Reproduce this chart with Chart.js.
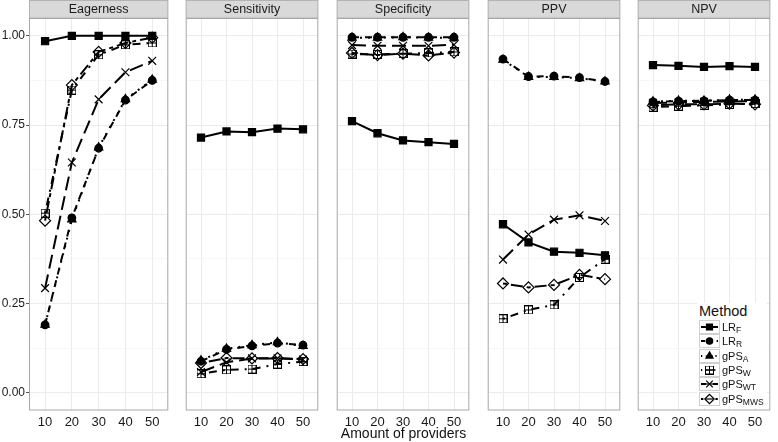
<!DOCTYPE html>
<html>
<head>
<meta charset="utf-8">
<script src="https://cdn.jsdelivr.net/npm/chart.js@4.4.1/dist/chart.umd.min.js"></script>
<style>
  body { margin: 0; background: #fff; }
  #wrap { position: relative; width: 778px; height: 442px; overflow: hidden;
          font-family: "Liberation Sans", Arial, sans-serif; color: #111; }
  #wrap > canvas { position: absolute; top: 0; }
  #xtitle { position: absolute; left: 29px; width: 749px; top: 425px; text-align: center; font-size: 14px; }
  #legend { position: absolute; left: 697px; top: 303px; background: #fff; padding: 0 3px 2px 2px; }
  #legend .ttl { font-size: 14.5px; line-height: 16px; margin-bottom: 1px; }
  #legend .row { height: 14.3px; display: flex; align-items: center; font-size: 11px; }
  #legend .row canvas { display: block; margin-right: 2px; }
  #legend sub { font-size: 8.5px; vertical-align: -2px; line-height: 0; }
</style>
</head>
<body>
<div id="wrap">
  <div id="xtitle">Amount of providers</div>
</div>
<script>
// x categories and facets
const providers = [10, 20, 30, 40, 50];
const panels = ["Eagerness", "Sensitivity", "Specificity", "PPV", "NPV"];
const yTicks = [0, 0.125, 0.25, 0.375, 0.5, 0.625, 0.75, 0.875, 1];

// one row per panel: Eagerness, Sensitivity, Specificity, PPV, NPV
const lrF = [
  [0.985, 1.0, 1.0, 1.0, 1.0],
  [0.715, 0.732, 0.730, 0.740, 0.738],
  [0.761, 0.727, 0.707, 0.702, 0.697],
  [0.472, 0.421, 0.395, 0.392, 0.385],
  [0.918, 0.916, 0.913, 0.915, 0.913]
];
const lrR = [
  [0.19, 0.49, 0.685, 0.82, 0.875],
  [0.088, 0.121, 0.131, 0.139, 0.133],
  [0.996, 0.996, 0.996, 0.996, 0.996],
  [0.935, 0.886, 0.887, 0.883, 0.872],
  [0.815, 0.817, 0.818, 0.820, 0.820]
];
const gpsA = [
  [0.19, 0.485, 0.687, 0.822, 0.877],
  [0.090, 0.123, 0.133, 0.141, 0.131],
  [0.995, 0.995, 0.996, 0.995, 0.995],
  [0.933, 0.885, 0.885, 0.881, 0.872],
  [0.816, 0.818, 0.818, 0.821, 0.821]
];
const gpsW = [
  [0.503, 0.848, 0.947, 0.975, 0.98],
  [0.053, 0.064, 0.066, 0.080, 0.087],
  [0.949, 0.948, 0.950, 0.952, 0.955],
  [0.207, 0.232, 0.246, 0.323, 0.374],
  [0.800, 0.803, 0.805, 0.808, 0.810]
];
const gpsWT = [
  [0.293, 0.645, 0.822, 0.898, 0.93],
  [0.058, 0.085, 0.096, 0.096, 0.093],
  [0.974, 0.972, 0.972, 0.972, 0.975],
  [0.373, 0.443, 0.485, 0.497, 0.481],
  [0.812, 0.813, 0.815, 0.816, 0.817]
];
const gpsMWS = [
  [0.482, 0.862, 0.955, 0.98, 0.995],
  [0.083, 0.097, 0.096, 0.097, 0.094],
  [0.952, 0.946, 0.950, 0.945, 0.953],
  [0.306, 0.295, 0.302, 0.330, 0.318],
  [0.805, 0.808, 0.808, 0.810, 0.808]
];

// open square with a plus (ggplot shape 12)
function squarePlus() {
  const c = document.createElement('canvas');
  c.width = 9; c.height = 9;
  const g = c.getContext('2d');
  g.strokeStyle = '#000'; g.lineWidth = 1;
  g.strokeRect(0.5, 0.5, 8, 8);
  g.beginPath(); g.moveTo(4.5, 0); g.lineTo(4.5, 9); g.moveTo(0, 4.5); g.lineTo(9, 4.5); g.stroke();
  return c;
}
const sqPlus = squarePlus();
const clear = 'rgba(0,0,0,0)';

const series = [
  { name: 'LR', sub: 'F', values: lrF, dash: [], style: 'rect', r: 5, fill: '#000' },
  { name: 'LR', sub: 'R', values: lrR, dash: [7, 6], style: 'circle', r: 3.8, fill: '#000' },
  { name: 'gPS', sub: 'A', values: gpsA, dash: [2, 6], style: 'triangle', r: 4.8, fill: '#000' },
  { name: 'gPS', sub: 'W', values: gpsW, dash: [2, 6, 8, 6], style: sqPlus, r: 4.5, fill: clear },
  { name: 'gPS', sub: 'WT', values: gpsWT, dash: [14, 6], style: 'crossRot', r: 5.5, fill: clear },
  { name: 'gPS', sub: 'MWS', values: gpsMWS, dash: [4, 4, 12, 4], style: 'rectRot', r: 5.5, fill: clear }
];

const isMajor = v => Math.abs(v * 4 - Math.round(v * 4)) < 1e-6;

// strip on top + panel border
const facetPlugin = {
  id: 'facet',
  beforeDraw(chart, args, opts) {
    const a = chart.chartArea, g = chart.ctx;
    g.save();
    g.fillStyle = '#d9d9d9';
    g.fillRect(a.left, 0, a.right - a.left, 18);
    g.strokeStyle = '#b3b3b3'; g.lineWidth = 1;
    g.strokeRect(a.left + 0.5, 0.5, a.right - a.left - 1, 17.5);
    g.fillStyle = '#1a1a1a';
    g.font = '12.5px "Liberation Sans", Arial, sans-serif';
    g.textAlign = 'center'; g.textBaseline = 'middle';
    g.fillText(opts.title, (a.left + a.right) / 2, 9.5);
    g.restore();
  },
  afterDraw(chart) {
    const a = chart.chartArea, g = chart.ctx;
    g.save();
    g.strokeStyle = '#a8a8a8'; g.lineWidth = 1;
    g.strokeRect(a.left + 0.5, a.top + 0.5, a.right - a.left - 1, a.bottom - a.top - 1);
    g.restore();
  }
};

const wrap = document.getElementById('wrap');
const lefts = [0, 179, 330, 481, 631];

panels.forEach((title, i) => {
  const first = i === 0;
  const cv = document.createElement('canvas');
  cv.width = first ? 175 : 146;
  cv.height = 442;
  cv.style.left = lefts[i] + 'px';
  wrap.insertBefore(cv, wrap.firstChild);

  new Chart(cv, {
    type: 'line',
    data: {
      datasets: series.map(s => ({
        label: s.name + s.sub,
        data: providers.map((x, k) => ({ x: x, y: s.values[i][k] })),
        borderColor: '#000',
        borderWidth: 2,
        borderDash: s.dash,
        fill: false,
        tension: 0,
        pointStyle: s.style,
        pointRadius: s.r,
        pointBorderWidth: 1.2,
        pointBorderColor: '#000',
        pointBackgroundColor: s.fill
      }))
    },
    options: {
      responsive: false,
      animation: false,
      layout: { padding: { top: 18, left: 0, right: 0, bottom: 0 } },
      plugins: { legend: { display: false }, tooltip: { enabled: false }, facet: { title: title } },
      scales: {
        x: {
          type: 'linear', min: 4, max: 56,
          afterBuildTicks: ax => { ax.ticks = providers.map(v => ({ value: v })); },
          afterFit: ax => { ax.height = 31.5; },
          border: { display: false },
          grid: { color: '#ebebeb', lineWidth: 1, tickColor: clear, tickLength: 4 },
          ticks: { color: '#1a1a1a', font: { size: 13, family: '"Liberation Sans", Arial, sans-serif' }, padding: 0, maxRotation: 0, autoSkip: false }
        },
        y: {
          min: -0.05, max: 1.05,
          afterBuildTicks: ax => { ax.ticks = yTicks.map(v => ({ value: v })); },
          afterFit: ax => { ax.width = first ? 29 : 0; },
          border: { display: false },
          grid: {
            color: c => isMajor(c.tick.value) ? '#ebebeb' : '#f4f4f4',
            lineWidth: c => isMajor(c.tick.value) ? 1 : 0.7,
            drawTicks: first,
            tickLength: 3,
            tickColor: c => isMajor(c.tick.value) ? '#555' : clear
          },
          ticks: {
            display: first,
            autoSkip: false,
            color: '#1a1a1a',
            padding: 1,
            font: { size: 12, family: '"Liberation Sans", Arial, sans-serif' },
            callback: v => isMajor(v) ? v.toFixed(2) : ''
          }
        }
      }
    },
    plugins: [facetPlugin]
  });
});

// legend
const leg = document.createElement('div');
leg.id = 'legend';
leg.innerHTML = '<div class="ttl">Method</div>';
series.forEach(s => {
  const row = document.createElement('div');
  row.className = 'row';
  const k = document.createElement('canvas');
  k.width = 21; k.height = 14;
  const g = k.getContext('2d');
  g.strokeStyle = '#d0d0d0'; g.lineWidth = 1;
  g.strokeRect(0.5, 0.5, 20, 13);
  g.strokeStyle = '#000'; g.lineWidth = 2; g.setLineDash(s.dash.length ? s.dash.map(d => d * 0.6) : []);
  g.beginPath(); g.moveTo(2, 7); g.lineTo(19, 7); g.stroke();
  g.setLineDash([]);
  g.lineWidth = 1.2;
  g.fillStyle = s.fill;
  g.clearRect(7, 2, 7, 10);
  g.beginPath(); g.moveTo(7, 7); g.lineTo(14, 7); g.stroke();
  Chart.helpers.drawPoint(g, { pointStyle: s.style, radius: s.r * 0.85, borderWidth: 1.2 }, 10.5, 7);
  const lab = document.createElement('span');
  lab.innerHTML = s.name + '<sub>' + s.sub + '</sub>';
  row.appendChild(k); row.appendChild(lab);
  leg.appendChild(row);
});
wrap.appendChild(leg);
</script>
</body>
</html>
